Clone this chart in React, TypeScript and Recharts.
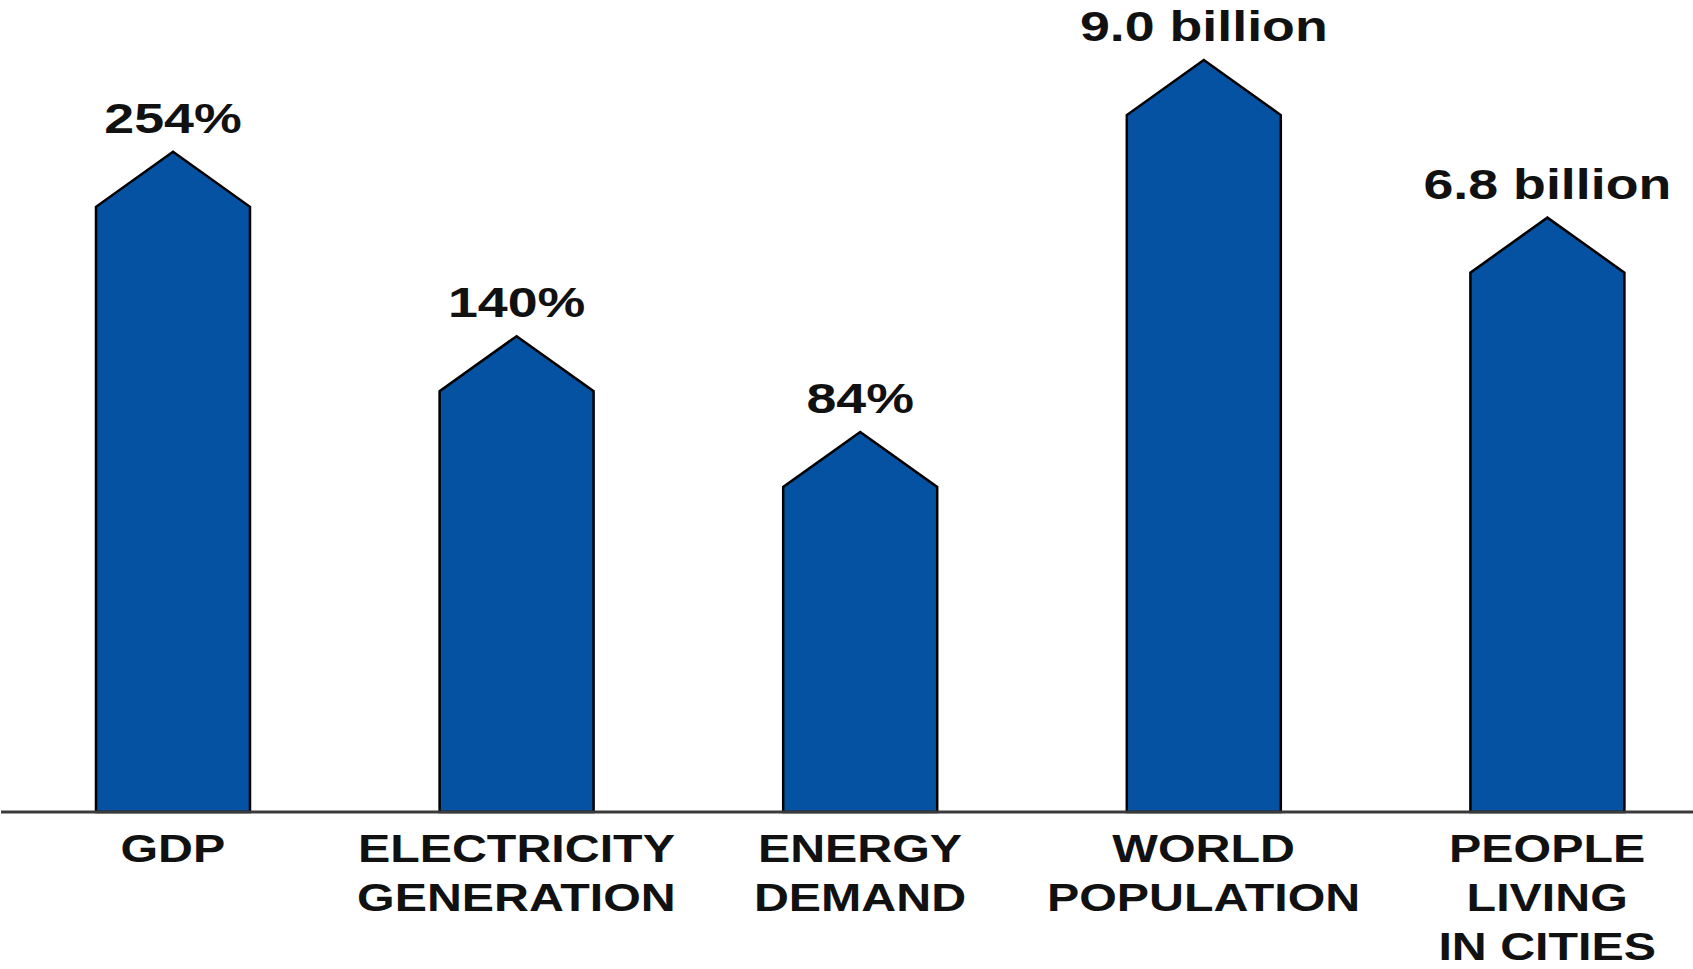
import React from 'react';
import { BarChart, Bar, XAxis, YAxis, LabelList } from 'recharts';

// categories (line breaks as in the picture)
const categories = [
  'GDP',
  'ELECTRICITY\nGENERATION',
  'ENERGY\nDEMAND',
  'WORLD\nPOPULATION',
  'PEOPLE\nLIVING\nIN CITIES',
];
// text printed above each bar
const valueLabels = ['254%', '140%', '84%', '9.0 billion', '6.8 billion'];
// drawn bar heights (pictogram, not to one scale), % of the plot height
const barHeights = [81.3, 58.6, 46.8, 92.6, 73.2];

const data = categories.map((name, i) => ({
  name,
  height: barHeights[i],
  label: valueLabels[i],
}));

const BLUE = '#0552a2';
const FONT = '"Liberation Sans", Arial, Helvetica, sans-serif';

// bar with a pointed (house shaped) top
const ArrowBar = (props: any) => {
  const { x, y, width, height } = props;
  if (!height) return null;
  const peak = 55;
  const pts = [
    [x + width / 2, y],
    [x + width, y + peak],
    [x + width, y + height],
    [x, y + height],
    [x, y + peak],
  ]
    .map((p) => p.join(','))
    .join(' ');
  return <polygon points={pts} fill={BLUE} stroke="#000" strokeWidth={2.5} strokeLinejoin="miter" />;
};

const CategoryTick = (props: any) => {
  const { x, y, payload } = props;
  const lines = String(payload.value).split('\n');
  return (
    <g transform={`translate(${x},${y})`}>
      <text
        transform="scale(1.24,1)"
        textAnchor="middle"
        fontFamily={FONT}
        fontWeight="bold"
        fontSize={39}
        fill="#111"
      >
        {lines.map((l, i) => (
          <tspan key={i} x={0} y={50 + i * 49}>
            {l}
          </tspan>
        ))}
      </text>
    </g>
  );
};

const ValueLabel = (props: any) => {
  const { x, y, width, value } = props;
  return (
    <g transform={`translate(${x + width / 2},${y - 19})`}>
      <text
        transform="scale(1.28,1)"
        textAnchor="middle"
        fontFamily={FONT}
        fontWeight="bold"
        fontSize={42}
        fill="#111"
      >
        {value}
      </text>
    </g>
  );
};

export default function App() {
  return (
    <div
      style={{
        position: 'absolute',
        left: 0,
        top: 0,
        width: 1693,
        height: 969,
        overflow: 'hidden',
        background: '#fff',
      }}
    >
      <BarChart
        width={1719}
        height={969}
        data={data}
        margin={{ top: 0, right: 0, left: 1, bottom: 0 }}
      >
        <XAxis
          dataKey="name"
          interval={0}
          height={157}
          tickLine={false}
          tickSize={0}
          tickMargin={0}
          axisLine={{ stroke: '#3a3a3a', strokeWidth: 3 }}
          tick={<CategoryTick />}
        />
        <YAxis hide domain={[0, 100]} />
        <Bar
          dataKey="height"
          barSize={154}
          shape={<ArrowBar />}
          isAnimationActive={false}
        >
          <LabelList dataKey="label" content={<ValueLabel />} />
        </Bar>
      </BarChart>
    </div>
  );
}
